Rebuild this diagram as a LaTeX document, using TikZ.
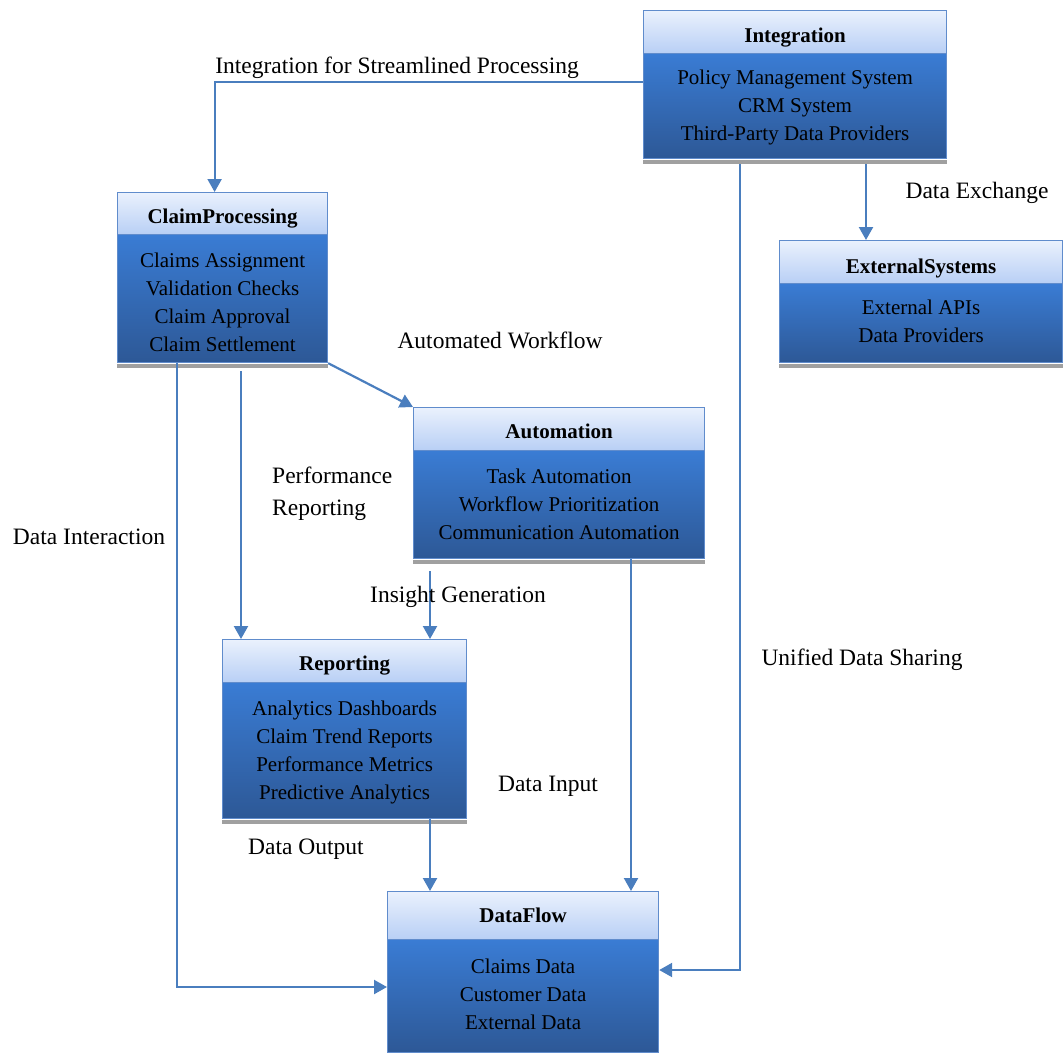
\documentclass[tikz,border=0pt]{standalone}
\usepackage{fontspec}
\setmainfont{Liberation Serif}
\usetikzlibrary{arrows.meta,calc}
\definecolor{bordc}{RGB}{96,140,204}
\definecolor{hdrtop}{RGB}{234,241,253}
\definecolor{hdrbot}{RGB}{184,207,245}
\definecolor{bodytop}{RGB}{58,124,212}
\definecolor{bodybot}{RGB}{45,88,150}
\definecolor{arrc}{RGB}{74,126,190}
\definecolor{shadc}{RGB}{160,160,160}
\tikzset{
  hdr/.style={draw=bordc, line width=1.2pt, top color=hdrtop, bottom color=hdrbot,
    anchor=north west, inner sep=0pt},
  bodybox/.style={draw=bordc, line width=1.2pt, top color=bodytop, bottom color=bodybot,
    anchor=north west, inner sep=0pt},
  htxt/.style={inner sep=0pt, font=\bfseries\fontsize{21}{25}\selectfont},
  btxt/.style={inner sep=0pt, align=center, font=\fontsize{21}{28}\selectfont},
  arr/.style={draw=arrc, line width=2.2pt, -{Triangle[length=13pt,width=14pt]}},
  lbl/.style={font=\fontsize{23.5}{32}\selectfont, inner sep=0pt}
}
\begin{document}
\begin{tikzpicture}[x=1pt,y=-1pt]
\useasboundingbox (0,0) rectangle (1063,1055);

% Integration
\node[hdr, minimum width=303pt, minimum height=43pt] (intH) at (643,10) {};
\node[bodybox, minimum width=303pt, minimum height=105pt] (intB) at (643,53) {};
\fill[shadc] ($(intB.south west)+(0,0.5)$) rectangle ($(intB.south east)+(0,5)$);
\node[htxt] (intHT) at ($(intH.center)+(0,5)$) {Integration};
\node[btxt] (intBT) at ($(intB.center)+(0,1.5)$) {Policy Management System\\CRM System\\Third-Party Data Providers};

% ClaimProcessing
\node[hdr, minimum width=210pt, minimum height=42pt] (cpH) at (117,192) {};
\node[bodybox, minimum width=210pt, minimum height=128pt] (cpB) at (117,234) {};
\fill[shadc] ($(cpB.south west)+(0,0.5)$) rectangle ($(cpB.south east)+(0,5)$);
\node[htxt] (cpHT) at ($(cpH.center)+(0,5)$) {ClaimProcessing};
\node[btxt] (cpBT) at ($(cpB.center)+(0,4)$) {Claims Assignment\\Validation Checks\\Claim Approval\\Claim Settlement};

% ExternalSystems
\node[hdr, minimum width=283pt, minimum height=43pt] (extH) at (779,240) {};
\node[bodybox, minimum width=283pt, minimum height=79pt] (extB) at (779,283) {};
\fill[shadc] ($(extB.south west)+(0,0.5)$) rectangle ($(extB.south east)+(0,5)$);
\node[htxt] (extHT) at ($(extH.center)+(0,6)$) {ExternalSystems};
\node[btxt] (extBT) at ($(extB.center)+(0,-1.5)$) {External APIs\\Data Providers};

% Automation
\node[hdr, minimum width=291pt, minimum height=43pt] (autoH) at (413,407) {};
\node[bodybox, minimum width=291pt, minimum height=108pt] (autoB) at (413,450) {};
\fill[shadc] ($(autoB.south west)+(0,0.5)$) rectangle ($(autoB.south east)+(0,5)$);
\node[htxt] (autoHT) at ($(autoH.center)+(0,2)$) {Automation};
\node[btxt] (autoBT) at ($(autoB.center)+(0,0)$) {Task Automation\\Workflow Prioritization\\Communication Automation};

% Reporting
\node[hdr, minimum width=244pt, minimum height=43pt] (repH) at (222,639) {};
\node[bodybox, minimum width=244pt, minimum height=136pt] (repB) at (222,682) {};
\fill[shadc] ($(repB.south west)+(0,0.5)$) rectangle ($(repB.south east)+(0,5)$);
\node[htxt] (repHT) at ($(repH.center)+(0,4)$) {Reporting};
\node[btxt] (repBT) at ($(repB.center)+(0,1.5)$) {Analytics Dashboards\\Claim Trend Reports\\Performance Metrics\\Predictive Analytics};

% DataFlow
\node[hdr, minimum width=271pt, minimum height=48pt] (dfH) at (387,891) {};
\node[bodybox, minimum width=271pt, minimum height=113pt] (dfB) at (387,939) {};
\node[htxt] (dfHT) at ($(dfH.center)+(0,0)$) {DataFlow};
\node[btxt] (dfBT) at ($(dfB.center)+(0,-2)$) {Claims Data\\Customer Data\\External Data};

% Connectors
\coordinate (c1) at ($(intB.north west)+(0,29)$);
\draw[arr] (c1) -| ($(cpH.north)+(-8,0)$);
\coordinate (c2) at ($(intB.south west)+(97,5)$);
\draw[arr] (c2) |- ($(dfB.north east)+(0,31)$);
\coordinate (c3) at ($(intB.south west)+(223,5)$);
\draw[arr] (c3) -- (c3 |- extH.north);
\draw[arr] (cpB.south east) -- (autoH.north west);
\coordinate (c5) at ($(cpB.south west)+(124,8)$);
\draw[arr] (c5) -- (c5 |- repH.north);
\coordinate (c6) at ($(cpB.south west)+(60,0)$);
\draw[arr] (c6) |- ($(dfB.north west)+(0,48)$);
\coordinate (c7) at ($(autoB.south west)+(17,12)$);
\draw[arr] (c7) -- (c7 |- repH.north);
\coordinate (c8) at ($(autoB.south west)+(218,0)$);
\draw[arr] (c8) -- (c8 |- dfH.north);
\coordinate (c9) at ($(repB.south west)+(208,0)$);
\draw[arr] (c9) -- (c9 |- dfH.north);

% Labels
\node[lbl] (l1) at (397,68) {Integration for Streamlined Processing};
\node[lbl] (l2) at (977,193) {Data Exchange};
\node[lbl] (l3) at (500,340) {Automated Workflow};
\node[lbl, align=left, anchor=west] (l4) at (272,494) {Performance\\Reporting};
\node[lbl] (l5) at (89,537) {Data Interaction};
\node[lbl] (l6) at (458,597) {Insight Generation};
\node[lbl] (l7) at (862,660) {Unified Data Sharing};
\node[lbl] (l8) at (548,786) {Data Input};
\node[lbl] (l9) at (306,849) {Data Output};
\end{tikzpicture}
\end{document}
